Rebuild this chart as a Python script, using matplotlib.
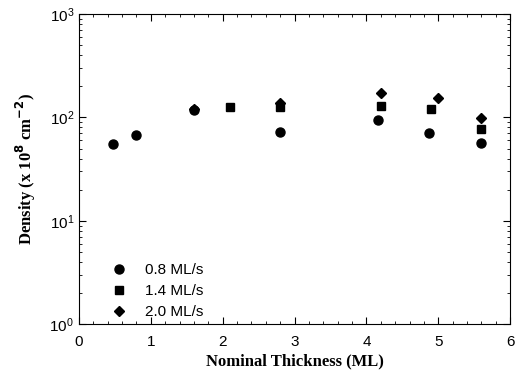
import matplotlib
matplotlib.use("Agg")
import matplotlib.pyplot as plt
from matplotlib.ticker import LogLocator, MultipleLocator, NullFormatter

x_08 = [0.48, 0.8, 1.6, 2.8, 4.16, 4.87, 5.59]
y_08 = [55, 68, 119, 72.6, 94, 70.5, 56]
x_14 = [2.1, 2.8, 4.2, 4.9, 5.59]
y_14 = [127, 125, 129, 121, 77.6]
x_20 = [1.6, 2.8, 4.2, 5.0, 5.59]
y_20 = [121, 138, 172, 153, 98]
labels = ["0.8 ML/s", "1.4 ML/s", "2.0 ML/s"]

fig = plt.figure(figsize=(5.19, 3.80), dpi=100)
ax = fig.add_axes([0.152, 0.147, 0.831, 0.816])
ax.plot(x_08, y_08, 'o', color='black', markersize=6.5, label=labels[0])
ax.plot(x_14, y_14, 's', color='black', markersize=5.5, label=labels[1])
ax.plot(x_20, y_20, 'D', color='black', markersize=5, label=labels[2])
ax.set_yscale('log')
ax.set_xlim(0, 6)
ax.set_ylim(1, 1000)
ax.xaxis.set_major_locator(MultipleLocator(1))
ax.xaxis.set_minor_locator(MultipleLocator(0.2))
ax.yaxis.set_major_locator(LogLocator(base=10, numticks=10))
ax.yaxis.set_minor_locator(LogLocator(base=10, subs=range(2, 10), numticks=10))
ax.yaxis.set_minor_formatter(NullFormatter())
ax.tick_params(which='both', direction='in', top=True, right=True, labelsize=11)
ax.tick_params(which='major', length=5)
ax.tick_params(axis='x', which='major', pad=8)
ax.tick_params(which='minor', length=2.5)
for lab in ax.get_xticklabels() + ax.get_yticklabels():
    lab.set_family('Liberation Sans')
ax.set_xlabel('Nominal Thickness (ML)', fontfamily='Liberation Serif', fontweight='bold', fontsize=12, labelpad=3)
ax.set_ylabel('Density (x 10$^{\\mathbf{8}}$ cm$^{\\mathbf{-2}}$)', fontfamily='Liberation Serif', fontweight='bold', fontsize=12, labelpad=8)
leg = ax.legend(loc='lower left', frameon=False, handletextpad=0.7, labelspacing=0.45,
                prop={'family': 'Liberation Sans', 'size': 11}, bbox_to_anchor=(0.025, -0.028))
fig.savefig('out.png', dpi=100)
